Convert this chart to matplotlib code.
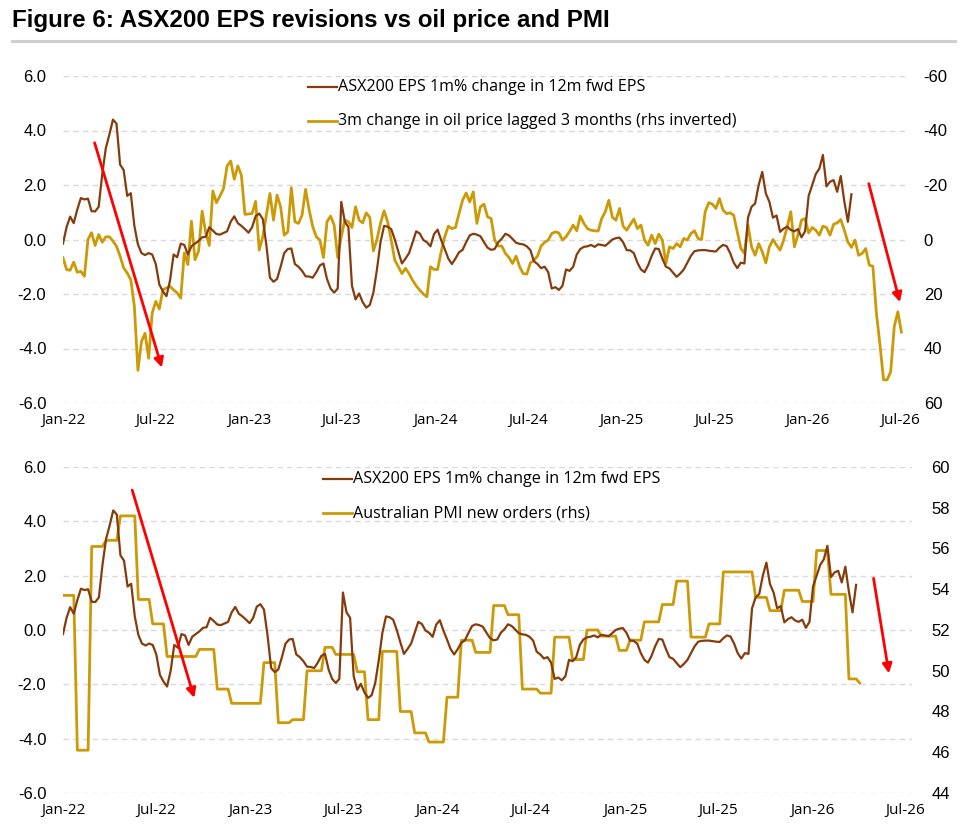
import numpy as np
import pandas as pd
import matplotlib
matplotlib.use("Agg")
import matplotlib.pyplot as plt
import matplotlib.dates as mdates
from matplotlib import font_manager
from matplotlib.lines import Line2D
from matplotlib.ticker import FixedLocator, FuncFormatter

plt.rcParams['axes.unicode_minus'] = False

# ---------------- data ----------------
title = "Figure 6: ASX200 EPS revisions vs oil price and PMI"
eps_label = "ASX200 EPS 1m% change in 12m fwd EPS"
oil_label = "3m change in oil price lagged 3 months (rhs inverted)"
pmi_label = "Australian PMI new orders (rhs)"

start_date = "2022-01-07"   # weekly series start

# ASX200 EPS 1m % change in 12m fwd EPS (weekly)
eps_values = [
    -0.15, 0.45, 0.84, 0.6, 1.1, 1.52, 1.47, 1.5, 1.04, 1.03,
    1.2, 2.4, 3.35, 3.85, 4.4, 4.25, 2.75, 2.55, 1.6, 1.7,
    0.5, -0.18, -0.5, -0.57, -0.5, -0.55, -0.9, -1.65, -1.9, -2.08,
    -1.5, -0.55, -0.65, -0.15, -0.2, -0.55, -0.25, -0.15, -0.05, 0.08,
    0.1, 0.45, 0.33, 0.2, 0.18, 0.24, 0.3, 0.65, 0.85, 0.6,
    0.5, 0.38, 0.25, 0.45, 0.86, 0.95, 0.75, -0.2, -1.4, -1.55,
    -1.45, -1.0, -0.5, -0.35, -0.33, -0.9, -1.0, -1.15, -1.35, -1.36,
    -1.4, -1.2, -0.95, -0.88, -1.45, -1.8, -1.95, -1.8, 1.38, 0.65,
    0.45, -1.7, -2.2, -1.98, -2.3, -2.5, -2.4, -1.95, -1.1, -0.1,
    0.5, 0.47, 0.38, 0.0, -0.45, -0.88, -0.7, -0.5, -0.1, 0.3,
    0.22, -0.02, -0.1, -0.25, 0.2, 0.36, -0.02, -0.35, -0.7, -0.9,
    -0.7, -0.47, -0.38, -0.1, 0.15, 0.21, 0.18, 0.12, -0.1, -0.3,
    -0.38, -0.35, -0.1, 0.03, 0.21, 0.15, 0.02, -0.12, -0.16, -0.18,
    -0.25, -0.39, -0.8, -0.9, -1.05, -1.0, -1.2, -1.8, -1.75, -1.85,
    -1.7, -1.1, -1.15, -1.0, -0.55, -0.35, -0.27, -0.25, -0.2, -0.27,
    -0.18, -0.2, -0.23, -0.12, 0.0, 0.05, 0.07, -0.1, -0.39, -0.4,
    -0.5, -0.85, -1.1, -1.2, -0.95, -0.6, -0.33, -0.35, -0.7, -1.0,
    -1.06, -1.22, -1.37, -1.25, -1.1, -0.85, -0.6, -0.43, -0.4, -0.39,
    -0.39, -0.41, -0.43, -0.44, -0.3, -0.2, -0.24, -0.5, -0.85, -1.05,
    -0.85, -0.88, 0.8, 1.2, 1.32, 2.0, 2.48, 1.69, 1.38, 0.8,
    0.88, 0.28, 0.4, 0.47, 0.35, 0.3, 0.38, 0.08, 0.3, 1.6,
    2.0, 2.4, 2.6, 3.1, 1.95, 2.12, 2.18, 1.75, 2.33, 1.4,
    0.65, 1.66,
]

# 3m change in oil price lagged 3 months, % (weekly, plotted on inverted rhs)
oil_values = [
    6.7, 11.0, 11.3, 8.3, 12.0, 11.7, 13.5, 0.0, -2.5, 2.2,
    -1.8, 1.0, -1.0, -1.0, 0.6, 2.5, 6.1, 10.4, 12.3, 14.7,
    24.5, 48.0, 37.4, 34.4, 43.6, 27.0, 22.7, 25.5, 18.4, 17.8,
    17.2, 18.5, 19.6, 21.5, 4.9, 9.2, -6.7, 7.4, 4.3, -10.4,
    -2.5, 2.2, -17.8, -13.5, -16.0, -18.7, -27.0, -28.8, -22.1, -27.0,
    -23.6, -9.2, -9.4, -9.5, -14.0, 3.9, -1.0, -8.9, -16.9, -7.1,
    -16.3, -12.0, -1.6, -2.8, -19.0, -6.5, -5.9, -8.9, -18.4, -10.8,
    -4.7, -1.0, 0.2, 6.6, -6.5, -8.6, -5.3, 6.6, -1.0, -7.1,
    -6.5, -4.4, -12.0, -7.1, -6.1, -9.8, -8.1, 4.2, 0.0, -6.0,
    -10.5, -6.5, 0.2, 7.6, 10.0, 12.5, 10.6, 12.5, 15.0, 17.0,
    18.6, 20.0, 21.0, 10.0, 11.0, 11.0, 4.5, -1.0, -4.9, -4.0,
    -4.4, -9.5, -14.4, -17.1, -13.8, -17.5, -5.9, -12.0, -13.0, -8.3,
    -7.7, 0.2, 2.4, 2.4, 5.1, 6.6, 8.8, 6.1, 10.0, 12.5,
    12.7, 8.6, 7.6, 6.1, 2.4, 1.0, 0.2, -2.2, -2.8, -2.4,
    0.2, -1.0, -3.0, -5.3, -3.2, -8.6, -5.9, -4.0, -3.4, -3.2,
    -3.1, -7.7, -10.2, -14.4, -8.1, -7.1, -11.4, -4.9, -3.4, -5.5,
    -7.5, -4.0, -5.3, 0.2, 2.1, -1.6, 1.5, -2.0, 0.2, 8.8,
    2.7, 3.3, 1.5, 2.7, -0.4, 0.2, -2.2, -3.2, -0.4, 0.0,
    -10.2, -13.5, -13.0, -11.4, -15.0, -10.8, -9.5, -9.8, -8.9, -2.8,
    3.3, 5.1, -5.3, 2.7, 5.8, 1.5, 4.5, 8.6, 2.7, 0.0,
    2.1, 3.9, 0.2, -4.7, -10.2, 2.7, -1.6, -7.1, -7.7, -2.4,
    -4.4, -3.4, -1.6, -4.9, -4.4, -1.6, -5.6, -6.1, -7.3, -3.4,
    0.9, 2.9, 0.2, 5.8, 5.1, 3.3, 9.4, 9.8, 27.1, 38.7,
    51.5, 51.5, 48.5, 32.0, 26.5, 34.0,
]

# Australian PMI new orders: value and the week it first shows in the weekly series
pmi_dates = [
    "2022-01-07", "2022-02-04", "2022-03-04", "2022-04-01", "2022-04-29", "2022-06-03",
    "2022-07-01", "2022-07-29", "2022-09-30", "2022-11-04", "2022-12-02", "2023-02-03",
    "2023-03-03", "2023-03-31", "2023-04-28", "2023-06-02", "2023-06-23", "2023-08-04",
    "2023-08-25", "2023-09-22", "2023-10-27", "2023-11-24", "2023-12-22", "2024-01-26",
    "2024-02-23", "2024-03-22", "2024-04-26", "2024-05-24", "2024-06-21", "2024-07-26",
    "2024-08-23", "2024-09-27", "2024-10-25", "2024-11-22", "2024-12-27", "2025-01-17",
    "2025-02-14", "2025-03-21", "2025-04-18", "2025-05-16", "2025-06-20", "2025-07-18",
    "2025-09-19", "2025-10-17", "2025-11-14", "2025-12-19", "2026-01-16", "2026-02-13",
    "2026-03-20", "2026-04-10",
]
pmi_values = [
    53.7, 46.1, 56.1, 56.4, 57.6, 53.5,
    52.3, 50.7, 51.05, 49.1, 48.4, 50.4,
    47.45, 47.6, 50.0, 51.15, 50.8, 49.95,
    47.6, 50.95, 48.0, 46.95, 46.5, 48.7,
    51.5, 50.9, 53.2, 52.75, 49.1, 48.9,
    51.65, 50.55, 52.0, 51.7, 51.0, 51.5,
    52.4, 53.25, 54.4, 51.65, 52.3, 54.85,
    53.6, 52.95, 53.95, 53.4, 55.9, 53.75,
    49.6, 49.4,
]

x_tick_labels = ["Jan-22", "Jul-22", "Jan-23", "Jul-23", "Jan-24", "Jul-24",
                 "Jan-25", "Jul-25", "Jan-26", "Jul-26"]
left_ticks = [-6, -4, -2, 0, 2, 4, 6]
oil_ticks = [-60, -40, -20, 0, 20, 40, 60]
pmi_ticks = [44, 46, 48, 50, 52, 54, 56, 58, 60]

# ---------------- helpers ----------------
names = {f.name for f in font_manager.fontManager.ttflist}
def pick(*cands):
    for c in cands:
        if c in names:
            return c
    return "DejaVu Sans"

TITLE_FONT = pick("Liberation Sans Narrow", "Liberation Sans")
NUM_FONT = pick("Liberation Sans", "Arimo", "DejaVu Sans")
TXT_FONT = pick("Open Sans", "Lato", "Liberation Sans")

BROWN = "#843C0C"
GOLD = "#CC9A06"
GRID = "#D9D9D9"
RED = "#FF0000"

W, H = 967, 834
fig = plt.figure(figsize=(W / 100, H / 100), dpi=100)

def fx(px):
    return px / W
def fy(py):
    return 1 - py / H

eps_dates = pd.date_range(start_date, periods=len(eps_values), freq="7D")
oil_dates = pd.date_range(start_date, periods=len(oil_values), freq="7D")
pmi_grid = pd.date_range(start_date, pmi_dates[-1], freq="7D")
pmi_series = pd.Series(pmi_values, index=pd.to_datetime(pmi_dates)).reindex(pmi_grid, method="ffill")

tick_dates = pd.date_range(start_date, periods=len(x_tick_labels), freq=pd.DateOffset(months=6))
x_min = pd.Timestamp(start_date)
x_max = pd.Timestamp("2026-07-21")


def style_axes(ax, ax2, right_ticks, right_fmt, right_pad):
    ax.set_xlim(x_min, x_max)
    ax.set_ylim(-6, 6)
    ax.yaxis.set_major_locator(FixedLocator(left_ticks))
    ax.yaxis.set_major_formatter(FuncFormatter(lambda v, p: f"{v:.1f}"))
    ax.set_xticks(tick_dates)
    ax.set_xticklabels(x_tick_labels, fontsize=11, fontfamily=TXT_FONT, color="#000000")
    for lab in ax.get_yticklabels():
        lab.set_fontfamily(NUM_FONT)
        lab.set_fontsize(12)
    ax.tick_params(axis="both", length=0)
    ax.tick_params(axis="y", pad=12)
    ax.tick_params(axis="x", pad=7)
    ax.grid(axis="y", color=GRID, linestyle=(0, (4, 3)), linewidth=1)
    ax.grid(axis="x", visible=False)
    ax.set_axisbelow(True)
    for s in ax.spines.values():
        s.set_visible(False)
    for s in ax2.spines.values():
        s.set_visible(False)
    ax2.yaxis.set_major_locator(FixedLocator(right_ticks))
    ax2.yaxis.set_major_formatter(FuncFormatter(right_fmt))
    ax2.tick_params(axis="y", length=0, pad=right_pad)
    for lab in ax2.get_yticklabels():
        lab.set_fontfamily(NUM_FONT)
        lab.set_fontsize(12)
    ax2.set_xlim(x_min, x_max)


# ---------------- top chart ----------------
ax1 = fig.add_axes([fx(63), fy(403), fx(907) - fx(63), fy(76) - fy(403)])
ax1b = ax1.twinx()
ax1b.set_ylim(60, -60)
style_axes(ax1, ax1b, oil_ticks, lambda v, p: f"{int(v)}", 12)
ax1b.plot(oil_dates, oil_values, color=GOLD, lw=2.0, solid_joinstyle="round", zorder=2)
# EPS line drawn on the front axes but using the left-axis scale
ax1b.plot(eps_dates, eps_values, color=BROWN, lw=1.6, solid_joinstyle="round",
          transform=ax1.transData, zorder=3)

# ---------------- bottom chart ----------------
ax2 = fig.add_axes([fx(63), fy(793), fx(912) - fx(63), fy(467) - fy(793)])
ax2b = ax2.twinx()
ax2b.set_ylim(44, 60)
style_axes(ax2, ax2b, pmi_ticks, lambda v, p: f"{int(v)}", 14)
ax2b.plot(pmi_series.index, pmi_series.values, color=GOLD, lw=2.0, solid_joinstyle="round", zorder=2)
ax2b.plot(eps_dates, eps_values, color=BROWN, lw=1.6, solid_joinstyle="round",
          transform=ax2.transData, zorder=3)

# keep limits fixed after plotting
ax1b.set_ylim(60, -60)
ax2b.set_ylim(44, 60)
for a in (ax1, ax1b, ax2, ax2b):
    a.set_xlim(x_min, x_max)
ax1.set_ylim(-6, 6)
ax2.set_ylim(-6, 6)

# ---------------- red arrows ----------------
def arrow(ax_data, ax_top, d0, v0, d1, v1):
    x0 = mdates.date2num(pd.Timestamp(d0))
    x1 = mdates.date2num(pd.Timestamp(d1))
    ax_top.annotate("", xy=(x1, v1), xytext=(x0, v0),
                    xycoords=ax_data.transData, textcoords=ax_data.transData,
                    arrowprops=dict(arrowstyle="-|>", color=RED, lw=2,
                                    mutation_scale=14, shrinkA=0, shrinkB=0),
                    annotation_clip=False)

arrow(ax1, ax1b, "2022-03-10", 3.55, "2022-07-20", -4.7)
arrow(ax1, ax1b, "2026-05-07", 2.05, "2026-07-07", -2.3)
arrow(ax2, ax2b, "2022-05-22", 5.15, "2022-09-20", -2.5)
arrow(ax2, ax2b, "2026-05-07", 1.9, "2026-06-06", -1.6)

# ---------------- legends (manual) ----------------
def legend_entry(x0, y, color, lw, text):
    fig.add_artist(Line2D([fx(x0), fx(x0 + 29)], [fy(y), fy(y)], color=color, lw=lw,
                          transform=fig.transFigure))
    fig.text(fx(x0 + 30), fy(y), text, fontsize=11.6, fontfamily=TXT_FONT,
             va="center", ha="left", color="#000000")

legend_entry(308, 87, BROWN, 1.6, eps_label)
legend_entry(308, 121, GOLD, 2.0, oil_label)
legend_entry(323, 479, BROWN, 1.6, eps_label)
legend_entry(323, 513, GOLD, 2.0, pmi_label)

# ---------------- title ----------------
fig.text(fx(12), fy(20), title, fontsize=17.4, fontweight="bold", fontfamily=TITLE_FONT,
         va="center", ha="left", color="#000000")
fig.add_artist(Line2D([fx(12), fx(955)], [fy(41), fy(41)], color="#CFCFCF", lw=2.2,
                      transform=fig.transFigure))

fig.savefig("out.png", dpi=100, facecolor="white")
